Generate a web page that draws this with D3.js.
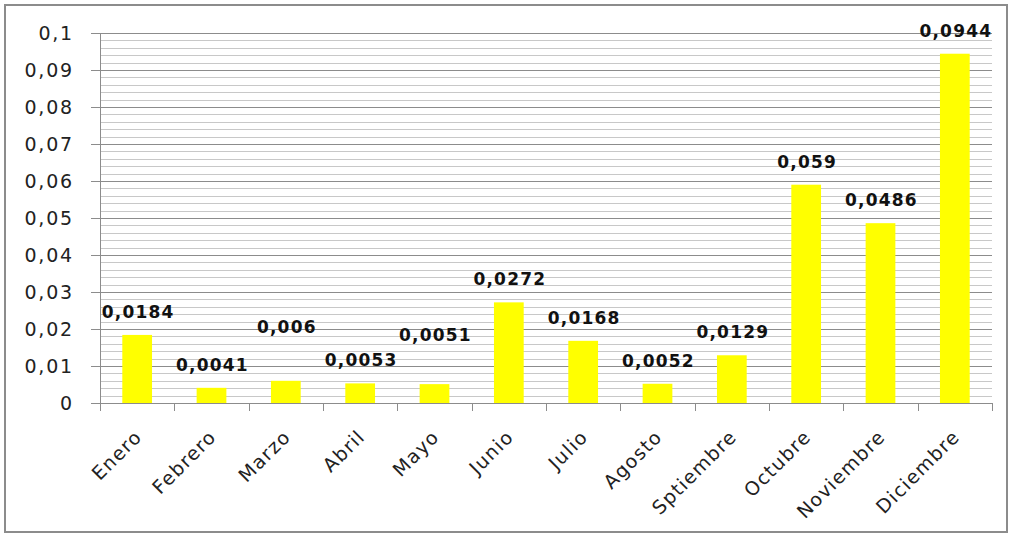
<!DOCTYPE html>
<html>
<head>
<meta charset="utf-8">
<script src="https://cdn.jsdelivr.net/npm/d3@7"></script>
<style>
  body { margin: 0; background: #fff; }
  text { font-family: "DejaVu Sans", Verdana, sans-serif; }
</style>
</head>
<body>
<div id="chart"></div>
<script>
// monthly values
const months = ["Enero", "Febrero", "Marzo", "Abril", "Mayo", "Junio", "Julio", "Agosto", "Sptiembre", "Octubre", "Noviembre", "Diciembre"];
const values = [0.0184, 0.0041, 0.006, 0.0053, 0.0051, 0.0272, 0.0168, 0.0052, 0.0129, 0.059, 0.0486, 0.0944];
const valueLabels = ["0,0184", "0,0041", "0,006", "0,0053", "0,0051", "0,0272", "0,0168", "0,0052", "0,0129", "0,059", "0,0486", "0,0944"];
const yTicks = [0, 0.01, 0.02, 0.03, 0.04, 0.05, 0.06, 0.07, 0.08, 0.09, 0.1];
const yTickLabels = ["0", "0,01", "0,02", "0,03", "0,04", "0,05", "0,06", "0,07", "0,08", "0,09", "0,1"];

// a few data labels were dragged up by hand in the original so they don't collide
const labelLift = {"Marzo": 31, "Mayo": 26};

const W = 1015, H = 534;
const margin = {top: 33, right: 23, bottom: 131, left: 100};
const width = W - margin.left - margin.right;
const height = H - margin.top - margin.bottom;

const svg = d3.select("#chart").append("svg")
    .attr("width", W)
    .attr("height", H);

// outer frame
svg.append("rect")
    .attr("x", 5).attr("y", 5)
    .attr("width", 1002).attr("height", 527)
    .attr("fill", "#fff")
    .attr("stroke", "#8c8c8c")
    .attr("stroke-width", 2);

const g = svg.append("g")
    .attr("transform", `translate(${margin.left}, ${margin.top})`);

const x = d3.scaleBand()
    .domain(months)
    .range([0, width])
    .paddingInner(0.6)
    .paddingOuter(0.3);

const y = d3.scaleLinear()
    .domain([0, 0.1])
    .range([height, 0]);

// minor gridlines every 0.002
const minor = d3.range(0, 51).map(i => i * 0.002).filter((d, i) => i % 5 !== 0);
g.selectAll(".minor")
    .data(minor)
    .join("line")
    .attr("x1", 0).attr("x2", width)
    .attr("y1", d => Math.round(y(d)) + 0.5)
    .attr("y2", d => Math.round(y(d)) + 0.5)
    .attr("stroke", "#c8c8c8");

// major gridlines
g.selectAll(".major")
    .data(yTicks.slice(1))
    .join("line")
    .attr("x1", 0).attr("x2", width)
    .attr("y1", d => Math.round(y(d)) + 0.5)
    .attr("y2", d => Math.round(y(d)) + 0.5)
    .attr("stroke", "#8c8c8c");

// y axis
const yAxis = g.append("g")
    .call(d3.axisLeft(y).tickValues(yTicks).tickSize(9).tickFormat((d, i) => yTickLabels[i]).tickPadding(17));
yAxis.select(".domain").attr("stroke", "#8c8c8c");
yAxis.selectAll("line").attr("stroke", "#8c8c8c");
yAxis.selectAll("text")
    .attr("font-size", "19px")
    .attr("letter-spacing", "1.8px")
    .attr("fill", "#222")
    .style("font-family", "DejaVu Sans, Verdana, sans-serif");

// bars
g.selectAll(".bar")
    .data(values)
    .join("rect")
    .attr("x", (d, i) => x(months[i]))
    .attr("width", x.bandwidth())
    .attr("y", d => y(d))
    .attr("height", d => height - y(d))
    .attr("fill", "#ffff00");

// x axis
const step = width / months.length;
const xAxis = g.append("g")
    .attr("transform", `translate(0, ${height})`);
xAxis.append("line")
    .attr("x1", 0).attr("x2", width)
    .attr("y1", 0.5).attr("y2", 0.5)
    .attr("stroke", "#8c8c8c");
xAxis.selectAll(".tick")
    .data(d3.range(months.length + 1))
    .join("line")
    .attr("x1", i => Math.round(i * step) + 0.5)
    .attr("x2", i => Math.round(i * step) + 0.5)
    .attr("y1", 0).attr("y2", 8)
    .attr("stroke", "#8c8c8c");
xAxis.selectAll(".lab")
    .data(months)
    .join("text")
    .attr("text-anchor", "end")
    .attr("font-size", "19px")
    .attr("letter-spacing", "1.3px")
    .attr("fill", "#222")
    .attr("transform", d => `translate(${x(d) + x.bandwidth() / 2 + 6}, 35) rotate(-45)`)
    .text(d => d);

// value labels
g.selectAll(".val")
    .data(values)
    .join("text")
    .attr("x", (d, i) => x(months[i]) + x.bandwidth() / 2 + 1)
    .attr("y", (d, i) => y(d) - 17 - (labelLift[months[i]] || 0))
    .attr("text-anchor", "middle")
    .attr("font-size", "17px")
    .attr("font-weight", "bold")
    .attr("letter-spacing", "1.2px")
    .attr("fill", "#111")
    .text((d, i) => valueLabels[i]);
</script>
</body>
</html>
